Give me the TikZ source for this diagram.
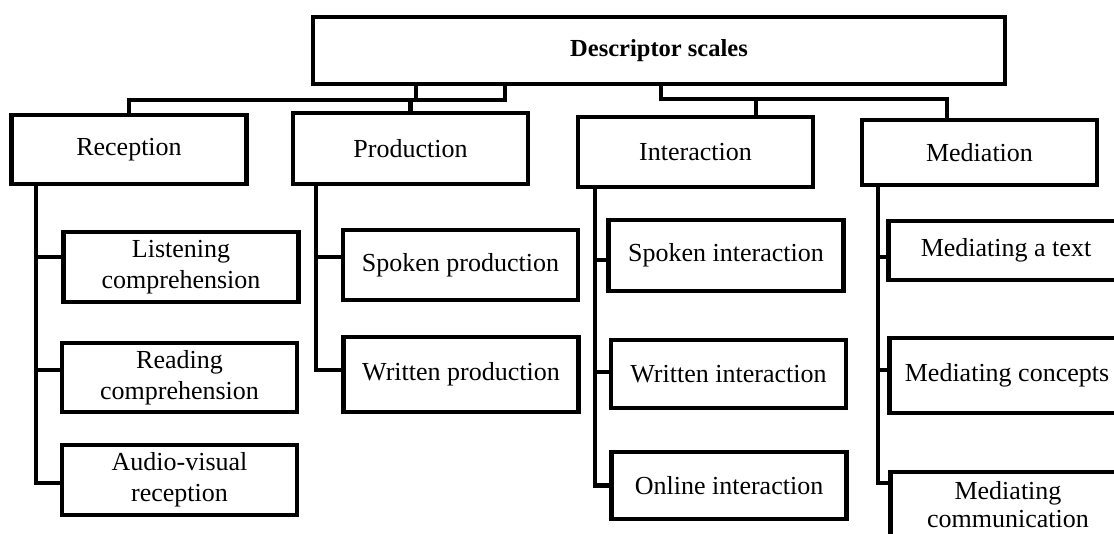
\documentclass[tikz,border=0pt]{standalone}
\usepackage{fontspec}
\setmainfont{Liberation Serif}
\begin{document}
\begin{tikzpicture}[x=1pt,y=-1pt,
  box/.style={draw, line width=4.4pt, inner sep=0pt, align=center,
    minimum width=235pt, minimum height=70pt,
    font=\fontsize{26}{31}\selectfont},
  link/.style={line width=4.4pt}]
\useasboundingbox (0,0) rectangle (1114,533);

% root
\node[box, minimum width=692pt, minimum height=67pt,
  font=\fontsize{24.5}{28}\selectfont\bfseries] (top) at (659,50.5) {Descriptor scales};

% main categories
\node[box, minimum height=69pt] (rec) at (129,149.5) {Reception};
\node[box, minimum height=71pt] (pro) at (410.5,148.5) {Production};
\node[box] (int) at (695.5,152) {Interaction};
\node[box, minimum height=65pt] (med) at (979.5,152.5) {Mediation};

% reception scales
\node[box] (L1) at (181,267) {Listening\\comprehension};
\node[box, minimum height=69pt] (L2) at (179.5,377.5) {Reading\\comprehension};
\node[box] (L3) at (179.5,480) {Audio-visual\\reception};

% production scales
\node[box] (P1) at (460.5,265) {Spoken production};
\node[box, minimum height=75pt] (P2) at (461,374.5) {Written production};

% interaction scales
\node[box, minimum height=71pt] (I1) at (726,255.5) {Spoken interaction};
\node[box, minimum height=68pt] (I2) at (728.5,374) {Written interaction};
\node[box, minimum height=67pt] (I3) at (729,485.5) {Online interaction};

% mediation scales
\node[box, minimum height=59pt] (M1) at (1006,250.5) {Mediating a text};
\node[box, minimum height=75pt] (M2) at (1007,375.5) {Mediating concepts};
\node[box, minimum height=66pt, font=\fontsize{26}{28}\selectfont] (M3) at (1008,505) {Mediating\\communication};

% links from the root
\coordinate (hubL) at (416,100);
\coordinate (brk) at (505,100);
\coordinate (hubR) at (661,99);
\draw[link] (hubL |- top.south) -- (hubL);
\draw[link] (brk |- top.south) -- (brk) -- (hubL);
\draw[link] (rec.north) |- (hubL);
\draw[link] (pro.north) -- (pro.north |- hubL);
\draw[link] (hubR |- top.south) -- (hubR) -| ([xshift=-32.5pt]med.north);
\coordinate (intIn) at ([xshift=60.5pt]int.north);
\draw[link] (intIn) -- (intIn |- hubR);

% spines of each column
\coordinate (rs) at (36,0);
\coordinate (ps) at (316,0);
\coordinate (is) at (595,0);
\coordinate (ms) at (878,0);

\coordinate (L1s) at ([yshift=10pt]L1.west);
\coordinate (L2s) at ([yshift=7.5pt]L2.west);
\coordinate (L3s) at ([yshift=-3pt]L3.west);
\draw[link] (rec.south -| rs) |- (L3s);
\draw[link] (L1s) -- (L1s -| rs);
\draw[link] (L2s) -- (L2s -| rs);

\coordinate (P1s) at ([yshift=8pt]P1.west);
\coordinate (P2s) at ([yshift=4.5pt]P2.west);
\draw[link] (pro.south -| ps) |- (P2s);
\draw[link] (P1s) -- (P1s -| ps);

\coordinate (I1s) at ([yshift=-4.5pt]I1.west);
\coordinate (I2s) at ([yshift=2pt]I2.west);
\coordinate (I3s) at (I3.west);
\draw[link] (int.south -| is) |- (I3s);
\draw[link] (I1s) -- (I1s -| is);
\draw[link] (I2s) -- (I2s -| is);

\coordinate (M1s) at ([yshift=-6.5pt]M1.west);
\coordinate (M2s) at ([yshift=5.5pt]M2.west);
\coordinate (M3s) at ([yshift=22pt]M3.west);
\draw[link] (med.south -| ms) |- (M3s);
\draw[link] (M1s) -- (M1s -| ms);
\draw[link] (M2s) -- (M2s -| ms);
\end{tikzpicture}
\end{document}
